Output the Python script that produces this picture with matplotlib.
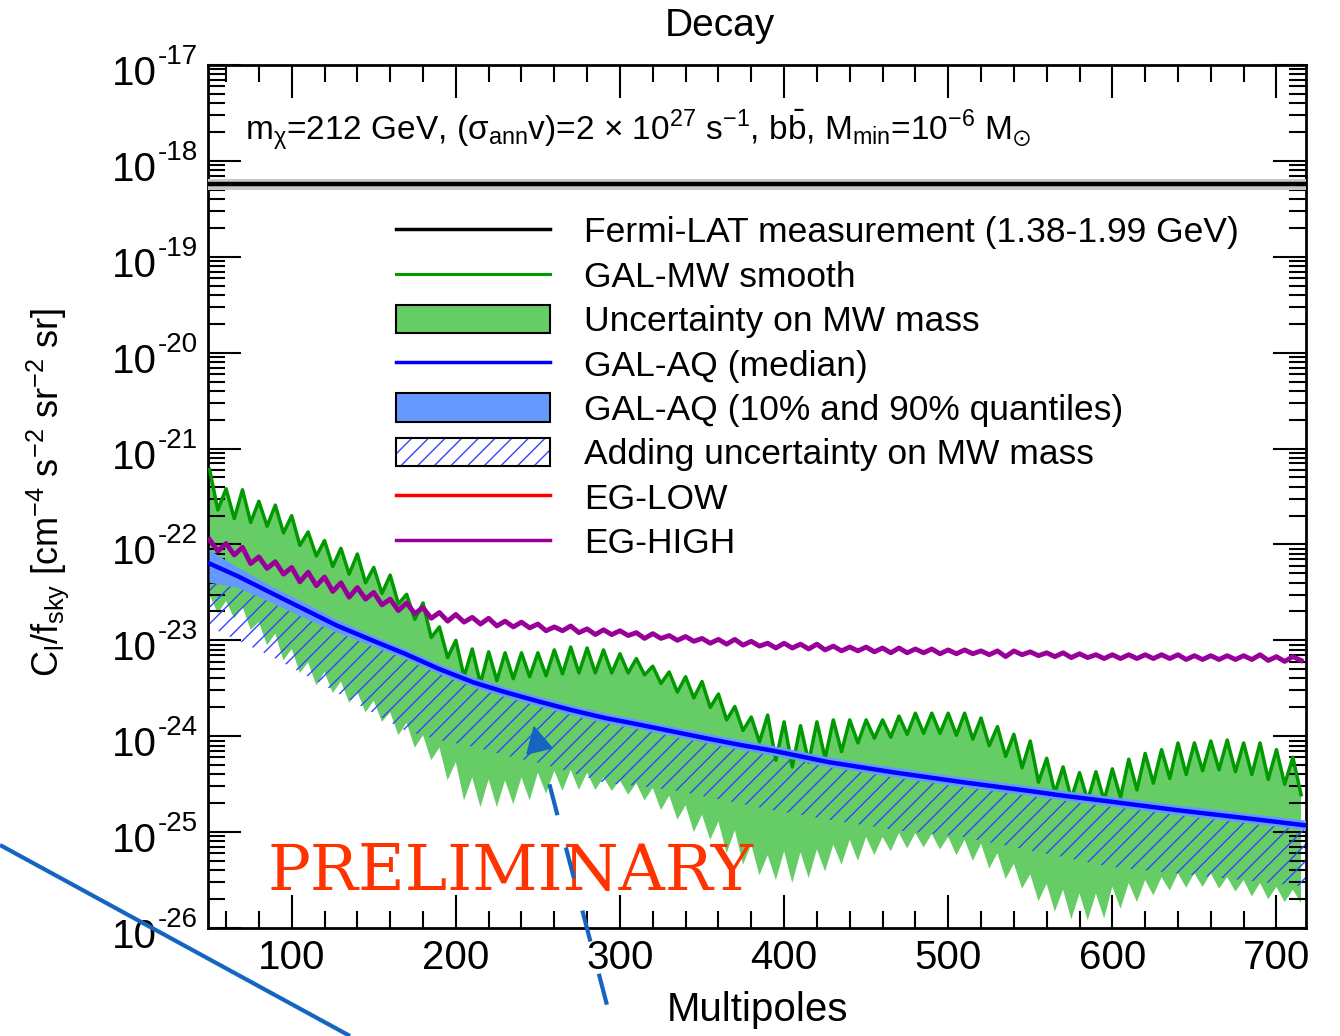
import numpy as np
import matplotlib
matplotlib.use("Agg")
import matplotlib.pyplot as plt
from matplotlib.lines import Line2D
from matplotlib.patches import Patch, Polygon
from matplotlib.legend_handler import HandlerTuple
from matplotlib.ticker import MultipleLocator, LogLocator, NullFormatter

plt.rcParams["font.family"] = ["Liberation Sans", "DejaVu Sans"]
plt.rcParams["mathtext.fontset"] = "custom"
plt.rcParams["mathtext.rm"] = "Liberation Sans"
plt.rcParams["mathtext.it"] = "Liberation Sans:italic"
plt.rcParams["mathtext.default"] = "regular"
plt.rcParams["hatch.linewidth"] = 1.0
plt.rcParams["lines.scale_dashes"] = False

# ---- data (log10 of C_l/f_sky) ----
# GAL-MW smooth: alternating peaks / troughs
mw_peak = [-21.22, -21.42, -21.43, -21.55, -21.59, -21.70, -21.87, -21.96, -22.04, -22.10,
           -22.24, -22.32, -22.52, -22.61, -22.86, -23.00, -23.09, -23.12, -23.13, -23.13,
           -23.13, -23.10, -23.07, -23.08, -23.10, -23.14, -23.19, -23.27, -23.33, -23.38,
           -23.43, -23.56, -23.69, -23.80, -23.78, -23.85, -23.89, -23.85, -23.83, -23.83,
           -23.83, -23.83, -23.79, -23.76, -23.76, -23.76, -23.76, -23.81, -23.90, -23.98,
           -24.05, -24.23, -24.32, -24.38, -24.37, -24.34, -24.24, -24.18, -24.14, -24.07,
           -24.07, -24.05, -24.04, -24.07, -24.07, -24.14, -24.22]
mw_trough = [-21.64, -21.73, -21.77, -21.81, -21.88, -22.01, -22.12, -22.23, -22.31, -22.40,
             -22.51, -22.62, -22.78, -22.97, -23.18, -23.38, -23.45, -23.42, -23.40, -23.38,
             -23.37, -23.35, -23.34, -23.34, -23.34, -23.34, -23.36, -23.45, -23.54, -23.60,
             -23.70, -23.83, -23.94, -24.06, -24.25, -24.32, -24.27, -24.23, -24.16, -24.07,
             -24.02, -24.01, -23.98, -23.97, -23.97, -23.99, -24.03, -24.10, -24.21, -24.33,
             -24.48, -24.59, -24.65, -24.67, -24.67, -24.64, -24.56, -24.49, -24.44, -24.40,
             -24.36, -24.35, -24.37, -24.40, -24.45, -24.50, -24.61]
# lower edge of the MW-mass uncertainty band
mw_low_shallow = [-22.53, -22.59, -22.65, -22.81, -22.93, -23.09, -23.23, -23.33, -23.43, -23.54,
                  -23.63, -23.75, -23.86, -23.99, -24.12, -24.27, -24.43, -24.45, -24.46, -24.43,
                  -24.38, -24.36, -24.35, -24.38, -24.43, -24.46, -24.49, -24.54, -24.62, -24.72,
                  -24.82, -24.89, -24.98, -25.13, -25.24, -25.20, -25.21, -25.18, -25.13, -25.08,
                  -25.05, -25.05, -25.01, -25.01, -25.02, -25.05, -25.08, -25.12, -25.22, -25.33,
                  -25.44, -25.54, -25.60, -25.64, -25.64, -25.57, -25.53, -25.50, -25.47, -25.43,
                  -25.43, -25.43, -25.47, -25.50, -25.53, -25.57, -25.60]
mw_low_deep = [-22.72, -22.77, -22.89, -23.05, -23.21, -23.34, -23.47, -23.55, -23.65, -23.75,
               -23.85, -23.99, -24.12, -24.25, -24.46, -24.67, -24.74, -24.74, -24.71, -24.67,
               -24.60, -24.57, -24.56, -24.56, -24.57, -24.61, -24.67, -24.77, -24.87, -25.00,
               -25.08, -25.22, -25.34, -25.45, -25.50, -25.53, -25.48, -25.41, -25.34, -25.30,
               -25.24, -25.20, -25.17, -25.16, -25.18, -25.24, -25.30, -25.38, -25.49, -25.59,
               -25.72, -25.83, -25.91, -25.92, -25.90, -25.80, -25.73, -25.66, -25.61, -25.58,
               -25.57, -25.59, -25.62, -25.67, -25.70, -25.73, -25.74]

# GAL-AQ median, 10%/90% quantiles, and lower edge of hatched band
aq_l = [50, 67, 88, 108, 128, 149, 169, 190, 211, 230, 251, 271, 291, 312, 332, 352, 373, 393,
        427, 468, 509, 549, 570, 598, 639, 679, 718]
aq_med = [-22.20, -22.33, -22.51, -22.68, -22.85, -23.00, -23.14, -23.30, -23.44, -23.54, -23.64,
          -23.73, -23.81, -23.88, -23.95, -24.02, -24.09, -24.15, -24.27, -24.38, -24.48, -24.57,
          -24.62, -24.68, -24.77, -24.85, -24.93]
aq_hi = [-22.06, -22.24, -22.44, -22.61, -22.79, -22.95, -23.09, -23.25, -23.39, -23.49, -23.59,
         -23.68, -23.76, -23.83, -23.90, -23.97, -24.04, -24.10, -24.22, -24.33, -24.43, -24.52,
         -24.57, -24.63, -24.72, -24.80, -24.88]
aq_lo = [-22.40, -22.45, -22.61, -22.77, -22.92, -23.06, -23.19, -23.35, -23.49, -23.59, -23.69,
         -23.78, -23.86, -23.93, -24.00, -24.07, -24.14, -24.20, -24.32, -24.43, -24.53, -24.62,
         -24.67, -24.73, -24.82, -24.90, -24.98]
hatch_lo = [-22.86, -23.00, -23.17, -23.36, -23.55, -23.75, -23.94, -24.04, -24.11, -24.20, -24.28,
            -24.38, -24.49, -24.52, -24.56, -24.63, -24.70, -24.77, -24.87, -24.98, -25.05, -25.19,
            -25.26, -25.36, -25.43, -25.50, -25.57]

# EG-HIGH, l = 50..715 step 5
eg_high = [-21.95, -22.07, -21.99, -22.11, -22.03, -22.20, -22.13, -22.25, -22.18, -22.31,
           -22.24, -22.39, -22.29, -22.43, -22.34, -22.49, -22.40, -22.55, -22.45, -22.57,
           -22.50, -22.63, -22.57, -22.69, -22.61, -22.72, -22.66, -22.77, -22.71, -22.80,
           -22.73, -22.81, -22.76, -22.83, -22.77, -22.85, -22.80, -22.86, -22.81, -22.87,
           -22.83, -22.90, -22.86, -22.90, -22.85, -22.92, -22.88, -22.94, -22.89, -22.94,
           -22.90, -22.95, -22.92, -22.98, -22.93, -22.98, -22.95, -23.00, -22.96, -23.01,
           -22.98, -23.03, -22.99, -23.04, -22.99, -23.05, -23.01, -23.06, -23.03, -23.08,
           -23.03, -23.08, -23.04, -23.09, -23.04, -23.10, -23.06, -23.11, -23.07, -23.11,
           -23.07, -23.12, -23.08, -23.13, -23.08, -23.13, -23.09, -23.13, -23.09, -23.14,
           -23.10, -23.14, -23.10, -23.14, -23.11, -23.15, -23.11, -23.17, -23.11, -23.15,
           -23.12, -23.16, -23.13, -23.17, -23.13, -23.18, -23.14, -23.18, -23.15, -23.19,
           -23.15, -23.19, -23.15, -23.19, -23.15, -23.19, -23.15, -23.19, -23.15, -23.20,
           -23.16, -23.20, -23.16, -23.20, -23.16, -23.20, -23.16, -23.20, -23.15, -23.21,
           -23.17, -23.22, -23.17, -23.21]

fermi = 5.7e-19
fermi_lo, fermi_hi = 5.0e-19, 6.4e-19

l_grid = np.arange(50, 716, 5)
mw_line = np.empty(len(l_grid))
mw_line[0::2] = mw_peak
mw_line[1::2] = mw_trough
mw_low = np.empty(len(l_grid))
mw_low[0::2] = mw_low_shallow
mw_low[1::2] = mw_low_deep

C_GREEN_FILL = "#66cc66"
C_GREEN = "#009900"
C_BLUE = "#0000ff"
C_BLUE_FILL = "#6699ff"
C_HATCH = "#3344ff"
C_PURPLE = "#990099"
C_RED = "#ff0000"

fig = plt.figure(figsize=(13.4, 10.36), dpi=100)
ax = fig.add_axes([208 / 1340, 1 - 928 / 1036, 1098 / 1340, 863 / 1036])

ax.fill_between(l_grid, 10 ** mw_low, 10 ** mw_line, facecolor=C_GREEN_FILL, linewidth=0, zorder=1)
ax.fill_between(aq_l, 10 ** np.array(hatch_lo), 10 ** np.array(aq_lo), facecolor="none",
                edgecolor=C_HATCH, hatch="//", linewidth=0, zorder=2)
ax.plot(l_grid, 10 ** mw_line, color=C_GREEN, lw=2.5, zorder=3)
ax.fill_between(aq_l, 10 ** np.array(aq_lo), 10 ** np.array(aq_hi), facecolor=C_BLUE_FILL,
                linewidth=0, zorder=4)
ax.plot(aq_l, 10 ** np.array(aq_med), color=C_BLUE, lw=3.2, zorder=5)
ax.plot(l_grid, 10 ** np.array(eg_high), color=C_PURPLE, lw=3.5, zorder=6)
ax.axhspan(fermi_lo, fermi_hi, color="#c8c8c8", lw=0, zorder=6)
ax.axhline(fermi, color="black", lw=3.2, zorder=7)

ax.set_yscale("log")
ax.set_xlim(49, 718)
ax.set_ylim(1e-26, 1e-17)

ax.xaxis.set_major_locator(MultipleLocator(100))
ax.xaxis.set_minor_locator(MultipleLocator(20))
ax.yaxis.set_major_locator(LogLocator(base=10, numticks=20))
ax.yaxis.set_minor_locator(LogLocator(base=10, subs=np.arange(2, 10), numticks=20))
ax.yaxis.set_major_formatter(NullFormatter())
ax.yaxis.set_minor_formatter(NullFormatter())
ax.tick_params(which="both", direction="in", top=True, right=True, width=1.5)
ax.tick_params(which="major", length=24, labelsize=29, pad=8)
ax.tick_params(which="minor", length=12)
for sp in ax.spines.values():
    sp.set_linewidth(2)

for e in range(-26, -16):
    ax.annotate("10", xy=(0, 10.0 ** e), xycoords=("axes fraction", "data"),
                xytext=(-51, -9), textcoords="offset pixels", ha="right", va="center", fontsize=29)
    ax.annotate("-%d" % (-e), xy=(0, 10.0 ** e), xycoords=("axes fraction", "data"),
                xytext=(-50, 8), textcoords="offset pixels", ha="left", va="center", fontsize=20)

ax.text(0.034, 0.9247,
        r"m$_{\chi}$=212 GeV, ($\sigma_{ann}$v)=2 $\times$ 10$^{27}$ s$^{-1}$, b$\bar{b}$, "
        r"M$_{min}$=10$^{-6}$ M$_{\odot}$",
        transform=ax.transAxes, ha="left", va="center", fontsize=24, zorder=10)

handles = [
    Line2D([], [], color="black", lw=2.5),
    Line2D([], [], color=C_GREEN, lw=2.2),
    Patch(facecolor=C_GREEN_FILL, edgecolor="black", lw=1.5),
    Line2D([], [], color=C_BLUE, lw=2.5),
    Patch(facecolor=C_BLUE_FILL, edgecolor="black", lw=1.5),
    (Patch(facecolor="white", edgecolor=C_HATCH, hatch="//", lw=0),
     Patch(facecolor="none", edgecolor="black", lw=1.5)),
    Line2D([], [], color=C_RED, lw=2.5),
    Line2D([], [], color=C_PURPLE, lw=2.5),
]
labels = ["Fermi-LAT measurement (1.38-1.99 GeV)", "GAL-MW smooth", "Uncertainty on MW mass",
          "GAL-AQ (median)", "GAL-AQ (10% and 90% quantiles)", "Adding uncertainty on MW mass",
          "EG-LOW", "EG-HIGH"]
ax.legend(handles, labels, loc="upper left", bbox_to_anchor=(0.1712, 0.825), frameon=False,
          fontsize=25.5, handlelength=4.36, handleheight=0.85, handletextpad=0.96,
          labelspacing=0.31, borderaxespad=0, borderpad=0,
          handler_map={tuple: HandlerTuple(ndivide=1)})

ax.text(0.0546, 0.044, "PRELIMINARY", transform=ax.transAxes, ha="left", va="baseline",
        fontsize=46, family="DejaVu Serif", color="#ff3300", zorder=12)

fig.text(720 / 1340, 1 - 26 / 1036, "Decay", ha="center", va="center", fontsize=28)
fig.text(757 / 1340, 1 - 1010 / 1036, "Multipoles", ha="center", va="center", fontsize=29)
fig.text(48 / 1340, 1 - 492 / 1036,
         r"C$_{l}$/f$_{sky}$ [cm$^{-4}$ s$^{-2}$ sr$^{-2}$ sr]",
         rotation=90, ha="center", va="center", fontsize=26)

# slide annotations drawn on top (figure pixel coordinates)
ov = fig.add_axes([0, 0, 1, 1], zorder=20)
ov.set_xlim(0, 1340)
ov.set_ylim(1036, 0)
ov.axis("off")
ov.patch.set_alpha(0)
C_ANN = "#1565c0"
solid_x, solid_y = [0, 350], [845, 1036]
ov.plot(solid_x, solid_y, color=C_ANN, lw=3, solid_capstyle="butt")
arrow_tip = (534, 727)
head_base = [(527, 754), (552, 748)]
dash_x, dash_y = [541, 620], [752, 1055]
ov.plot(dash_x, dash_y, color=C_ANN, lw=3, linestyle=(23, (23, 24)), dash_capstyle="butt")
ov.add_patch(Polygon([arrow_tip, head_base[0], head_base[1]], closed=True, color=C_ANN))

fig.savefig("out.png", dpi=100)
